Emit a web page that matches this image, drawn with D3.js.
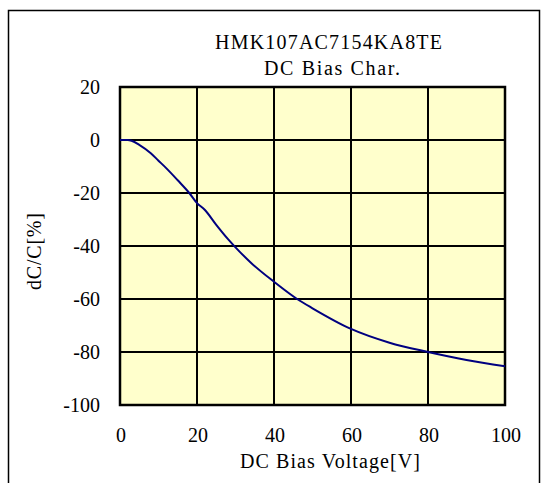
<!DOCTYPE html>
<html>
<head>
<meta charset="utf-8">
<script src="https://cdn.jsdelivr.net/npm/d3@7"></script>
<style>
  body { margin: 0; background: #fff; }
  text { font-family: "Liberation Serif", "Times New Roman", serif; fill: #000; }
</style>
</head>
<body>
<div id="chart"></div>
<script>
// DC bias characteristic

const titleLines = ["HMK107AC7154KA8TE", "DC Bias Char."];
const voltage = [0, 2, 3, 5, 8, 10, 12, 15, 18, 20, 22, 25, 28, 30, 34, 40, 46, 50, 60, 70, 80, 90, 100];
const dcRatio = [0, 0, -0.3, -1.8, -5, -7.8, -10.6, -15.2, -20, -23.8, -26.3, -32, -37.3, -40.5, -46.3, -53.5, -60, -63.5, -71.3, -76.5, -80, -83, -85.4];
const xTicks = [0, 20, 40, 60, 80, 100];
const yTicks = [20, 0, -20, -40, -60, -80, -100];

let width = 543;
let height = 483;

let svg = d3.select("#chart")
    .append("svg")
    .attr("width", width)
    .attr("height", height);

// outer frame
svg.append("rect")
    .attr("x", 8.5).attr("y", 10.5)
    .attr("width", 531).attr("height", 490)
    .attr("fill", "none")
    .attr("stroke", "#000")
    .attr("stroke-width", 1.5);

let x = d3.scaleLinear().domain([0, 100]).range([120, 505]);
let y = d3.scaleLinear().domain([-100, 20]).range([405, 87]);

svg.append("rect")
    .attr("x", x(0)).attr("y", y(20))
    .attr("width", x(100) - x(0)).attr("height", y(-100) - y(20))
    .attr("fill", "#FFFFCC");

// grid
svg.selectAll(".vgrid")
    .data(xTicks)
    .enter()
    .append("line")
    .attr("x1", d => x(d)).attr("x2", d => x(d))
    .attr("y1", y(20)).attr("y2", y(-100))
    .attr("stroke", "#000").attr("stroke-width", 2);

svg.selectAll(".hgrid")
    .data(yTicks)
    .enter()
    .append("line")
    .attr("x1", x(0)).attr("x2", x(100))
    .attr("y1", d => y(d)).attr("y2", d => y(d))
    .attr("stroke", "#000").attr("stroke-width", 2);

svg.append("rect")
    .attr("x", x(0)).attr("y", y(20))
    .attr("width", x(100) - x(0)).attr("height", y(-100) - y(20))
    .attr("fill", "none")
    .attr("stroke", "#000")
    .attr("stroke-width", 2.5);

// curve
let line = d3.line()
    .x((d, i) => x(voltage[i]))
    .y(d => y(d))
    .curve(d3.curveMonotoneX);

svg.append("path")
    .datum(dcRatio)
    .attr("d", line)
    .attr("fill", "none")
    .attr("stroke", "#000080")
    .attr("stroke-width", 2);

// tick labels
svg.selectAll(".ylab")
    .data(yTicks)
    .enter()
    .append("text")
    .attr("x", 100)
    .attr("y", d => y(d))
    .attr("dy", "0.35em")
    .attr("text-anchor", "end")
    .attr("font-size", 20)
    .text(d => d);

svg.selectAll(".xlab")
    .data(xTicks)
    .enter()
    .append("text")
    .attr("x", d => x(d) + 1)
    .attr("y", 435)
    .attr("dy", "0.35em")
    .attr("text-anchor", "middle")
    .attr("font-size", 20)
    .text(d => d);

// titles
const titleSpans = [[215, 227], [264, 136]];
svg.selectAll(".title")
    .data(titleLines)
    .enter()
    .append("text")
    .attr("x", (d, i) => titleSpans[i][0])
    .attr("y", (d, i) => 42 + i * 26)
    .attr("dy", "0.35em")
    .attr("textLength", (d, i) => titleSpans[i][1])
    .attr("lengthAdjust", "spacing")
    .attr("font-size", 20)
    .text(d => d);

svg.append("text")
    .attr("x", 240)
    .attr("y", 461)
    .attr("dy", "0.35em")
    .attr("textLength", 180)
    .attr("lengthAdjust", "spacing")
    .attr("font-size", 20)
    .text("DC Bias Voltage[V]");

svg.append("text")
    .attr("transform", "translate(34,290) rotate(-90)")
    .attr("dy", "0.35em")
    .attr("textLength", 77)
    .attr("lengthAdjust", "spacing")
    .attr("font-size", 20)
    .text("dC/C[%]");
</script>
</body>
</html>
